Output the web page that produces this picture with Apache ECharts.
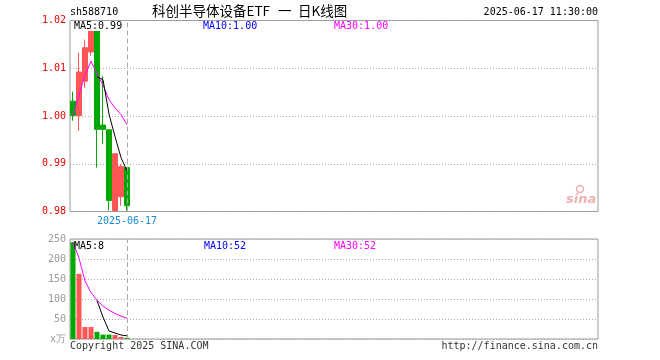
<!DOCTYPE html>
<html>
<head>
<meta charset="utf-8">
<script src="https://cdn.jsdelivr.net/npm/echarts@6/dist/echarts.min.js"></script>
<style>
html,body{margin:0;padding:0;background:#fff;}
#c{width:660px;height:360px;}
</style>
</head>
<body>
<div id="c"></div>
<script>
// ---- data ----
var dates = ['2025-06-04','2025-06-05','2025-06-06','2025-06-09','2025-06-10','2025-06-11','2025-06-12','2025-06-13','2025-06-16','2025-06-17'];
var opens  = [1.0031, 1.0001, 1.0073, 1.0134, 1.0182, 0.9981, 0.9971, 0.9802, 0.9831, 0.9892];
var closes = [1.0001, 1.0092, 1.0143, 1.0180, 0.9972, 0.9972, 0.9823, 0.9921, 0.9894, 0.9812];
var lows   = [0.9990, 0.9969, 1.0059, 1.0126, 0.9892, 0.9941, 0.9802, 0.9800, 0.9812, 0.9802];
var highs  = [1.0051, 1.0132, 1.0160, 1.0184, 1.0186, 1.0084, 0.9971, 0.9921, 0.9899, 0.9892];
var ma5Price  = ['-', '-', '-', '-', 1.0082, 1.0076, 1.0004, 0.9957, 0.9913, 0.9885];
var ma30Price = [1.0001, 1.0044, 1.0086, 1.0115, 1.0088, 1.0065, 1.0034, 1.0017, 1.0003, 0.9982];
var volumes = [242, 163, 30, 30, 18, 11, 11, 10, 5, 3];
var ma5Vol  = ['-', '-', '-', '-', 96, 55, 20, 15, 10, 8];
var ma30Vol = [242, 202, 145, 116, 97, 82, 72, 64, 57, 52];
var priceTicks = [0.98, 0.99, 1.00, 1.01, 1.02];
var volTicks = [0, 50, 100, 150, 200, 250];
var totalSlots = 88;
var cursorDate = '2025-06-17';

// ---- build ----
var cats = [];
for (var i = 0; i < totalSlots; i++) cats.push(i < dates.length ? dates[i] : 'slot' + i);
var kData = dates.map(function(d, i){ return [opens[i], closes[i], lows[i], highs[i]]; });
var volData = volumes.map(function(v, i){
  var up = closes[i] >= opens[i];
  return {value: v, itemStyle: {color: up ? '#ff5555' : '#00a800'}};
});
var mono = 'DejaVu Sans Mono';
var RED = '#ff5555', GREEN = '#00a800';

var chart = echarts.init(document.getElementById('c'), null, {renderer: 'canvas'});
chart.setOption({
  animation: false,
  backgroundColor: '#fff',
  grid: [
    {left: 70, right: 62, top: 20.5, height: 191, show: true, borderColor: '#999', borderWidth: 1, backgroundColor: 'transparent'},
    {left: 70, right: 62, top: 239, height: 100, show: true, borderColor: '#999', borderWidth: 1, backgroundColor: 'transparent'}
  ],
  xAxis: [
    {type: 'category', gridIndex: 0, data: cats, boundaryGap: true,
     axisLine: {show: false}, axisTick: {show: false}, splitLine: {show: false},
     axisLabel: {show: true, interval: 0, margin: 5, color: '#1a8ad4', fontFamily: mono, fontSize: 10,
       formatter: function(v){ return v === cursorDate ? v : ''; }}},
    {type: 'category', gridIndex: 1, data: cats, boundaryGap: true,
     axisLine: {show: false}, axisTick: {show: false}, splitLine: {show: false}, axisLabel: {show: false}}
  ],
  yAxis: [
    {type: 'value', gridIndex: 0, min: priceTicks[0], max: priceTicks[priceTicks.length-1], interval: 0.01,
     axisLine: {show: false}, axisTick: {show: false},
     splitLine: {show: true, lineStyle: {type: [1, 2], color: '#aaa', width: 1}},
     axisLabel: {color: '#ee0000', fontFamily: mono, fontSize: 10, margin: 4,
       formatter: function(v){ return v.toFixed(2); }}},
    {type: 'value', gridIndex: 1, min: volTicks[0], max: volTicks[volTicks.length-1], interval: 50,
     axisLine: {show: false}, axisTick: {show: false},
     splitLine: {show: true, lineStyle: {type: [1, 2], color: '#aaa', width: 1}},
     axisLabel: {color: '#999', fontFamily: mono, fontSize: 10, margin: 4,
       formatter: function(v){ return v === 0 ? 'x万' : String(v); }}}
  ],
  series: [
    {type: 'candlestick', xAxisIndex: 0, yAxisIndex: 0, data: kData, barWidth: 5,
     itemStyle: {color: RED, color0: GREEN, borderColor: RED, borderColor0: GREEN, borderWidth: 1},
     markLine: {silent: true, symbol: 'none', label: {show: false},
       lineStyle: {type: [5, 3], color: '#aaa', width: 1},
       data: [{xAxis: cursorDate}]}},
    {type: 'line', xAxisIndex: 0, yAxisIndex: 0, data: ma30Price, showSymbol: false, symbol: 'none',
     lineStyle: {color: '#ff00ff', width: 1}},
    {type: 'line', xAxisIndex: 0, yAxisIndex: 0, data: ma5Price, showSymbol: false, symbol: 'none',
     lineStyle: {color: '#000', width: 1}},
    {type: 'bar', xAxisIndex: 1, yAxisIndex: 1, data: volData, barWidth: 5,
     markLine: {silent: true, symbol: 'none', label: {show: false},
       lineStyle: {type: [5, 3], color: '#aaa', width: 1},
       data: [{xAxis: cursorDate}]}},
    {type: 'line', xAxisIndex: 1, yAxisIndex: 1, data: ma30Vol, showSymbol: false, symbol: 'none',
     lineStyle: {color: '#ff00ff', width: 1}},
    {type: 'line', xAxisIndex: 1, yAxisIndex: 1, data: ma5Vol, showSymbol: false, symbol: 'none',
     lineStyle: {color: '#000', width: 1}}
  ],
  graphic: [
    {type: 'text', left: 70, top: 7, style: {text: 'sh588710', font: '10px "DejaVu Sans Mono"', fill: '#000'}},
    {type: 'text', left: 152, top: 4, style: {text: '科创半导体设备ETF', font: '13.5px "Noto Sans CJK SC"', fill: '#000'}},
    {type: 'text', left: 278, top: 4, style: {text: '一', font: '13.5px "Noto Sans CJK SC"', fill: '#000'}},
    {type: 'text', left: 298, top: 4, style: {text: '日K线图', font: '13.5px "Noto Sans CJK SC"', fill: '#000'}},
    {type: 'text', right: 62, top: 7, style: {text: '2025-06-17 11:30:00', font: '10px "DejaVu Sans Mono"', fill: '#000'}},
    {type: 'text', left: 74, top: 21, z: 100, style: {text: 'MA5:0.99', font: '10px "DejaVu Sans Mono"', fill: '#000', backgroundColor: '#fff'}},
    {type: 'text', left: 203, top: 21, style: {text: 'MA10:1.00', font: '10px "DejaVu Sans Mono"', fill: '#0000ff'}},
    {type: 'text', left: 334, top: 21, style: {text: 'MA30:1.00', font: '10px "DejaVu Sans Mono"', fill: '#ff00ff'}},
    {type: 'text', left: 74, top: 241, z: 100, style: {text: 'MA5:8', font: '10px "DejaVu Sans Mono"', fill: '#000'}},
    {type: 'text', left: 204, top: 241, style: {text: 'MA10:52', font: '10px "DejaVu Sans Mono"', fill: '#0000ff'}},
    {type: 'text', left: 334, top: 241, style: {text: 'MA30:52', font: '10px "DejaVu Sans Mono"', fill: '#ff00ff'}},
    {type: 'text', left: 70, top: 341, style: {text: 'Copyright 2025 SINA.COM', font: '10px "DejaVu Sans Mono"', fill: '#333'}},
    {type: 'text', right: 62, top: 341, style: {text: 'http://finance.sina.com.cn', font: '10px "DejaVu Sans Mono"', fill: '#333'}},
    {type: 'text', left: 566, top: 193, style: {text: 'sina', font: 'italic bold 13px "DejaVu Sans"', fill: '#eeb0b0'}},
    {type: 'circle', shape: {cx: 580, cy: 189, r: 3.5}, style: {fill: 'none', stroke: '#eeb0b0', lineWidth: 1.5}}
  ]
});
</script>
</body>
</html>
